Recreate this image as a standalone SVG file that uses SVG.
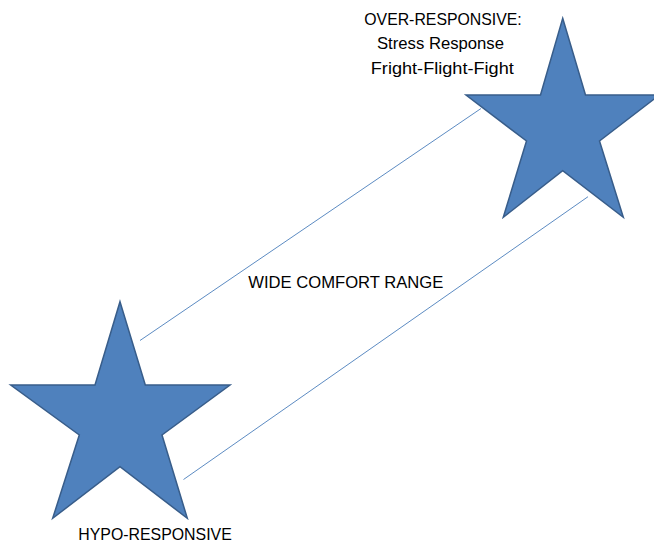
<svg xmlns="http://www.w3.org/2000/svg" width="654" height="545" viewBox="0 0 654 545">
<style>
.star{fill:#4f81bd;stroke:#385d8a;stroke-width:1.5;stroke-linejoin:miter}
.conn{stroke:#4a7ebb;stroke-width:0.9;fill:none}
.lbl{font-family:"Liberation Sans",Arial,sans-serif;font-size:16.5px;fill:#000;text-anchor:middle}
</style>
<rect width="654" height="545" fill="#fff"/>
<g id="connectors">
<line class="conn" x1="140" y1="340.5" x2="481" y2="108.5"/>
<line class="conn" x1="183.5" y1="479.5" x2="588" y2="196.7"/>
</g>
<g id="over-responsive">
<polygon class="star" points="562.7,18.3 585.5,95 659.4,95 599.5,141 623.3,217.3 562.7,170.7 503.3,217.3 526.5,141 466,95 540.5,95"/>
<text class="lbl" x="443" y="24.5" textLength="157.5" lengthAdjust="spacingAndGlyphs">OVER-RESPONSIVE:</text>
<text class="lbl" x="440.5" y="49" textLength="127" lengthAdjust="spacingAndGlyphs">Stress Response</text>
<text class="lbl" x="442.3" y="73.5" textLength="143" lengthAdjust="spacingAndGlyphs">Fright-Flight-Fight</text>
</g>
<g id="hypo-responsive">
<polygon class="star" points="120,301.7 145.3,385 230,385 162,435 187.3,518.3 120,466.7 52.7,518.3 79.3,435 10.7,385 95,385"/>
<text class="lbl" x="155" y="540" textLength="153.5" lengthAdjust="spacingAndGlyphs">HYPO-RESPONSIVE</text>
</g>
<g id="range">
<text class="lbl" x="345.8" y="288" textLength="195" lengthAdjust="spacingAndGlyphs">WIDE COMFORT RANGE</text>
</g>
</svg>
